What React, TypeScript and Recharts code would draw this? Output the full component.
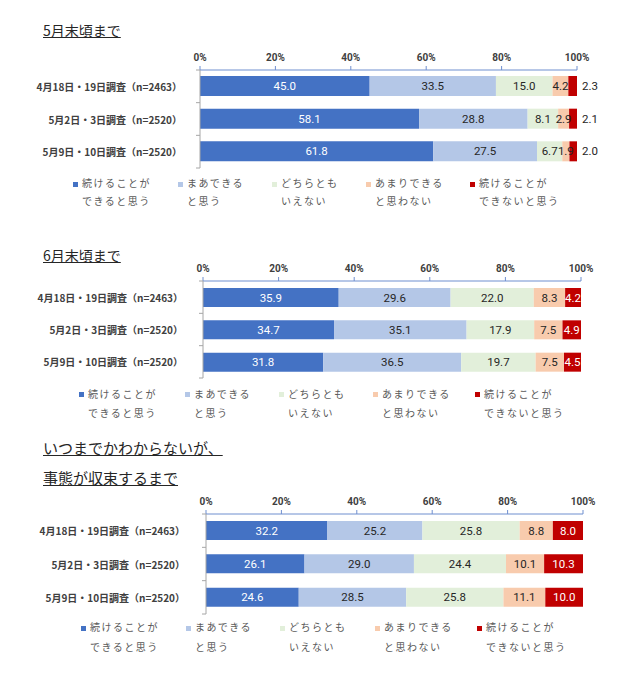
import React from 'react';
import { BarChart, Bar, XAxis, YAxis, LabelList } from 'recharts';

// survey rounds (y categories)
const categories = [
  '4月18日・19日調査（n=2463）',
  '5月2日・3日調査（n=2520）',
  '5月9日・10日調査（n=2520）',
];

// legend text, two lines each
const seriesLabels = [
  ['続けることが', 'できると思う'],
  ['まあできる', 'と思う'],
  ['どちらとも', 'いえない'],
  ['あまりできる', 'と思わない'],
  ['続けることが', 'できないと思う'],
];

const seriesColors = ['#4472C4', '#B4C7E7', '#E2EFDA', '#F8CBAD', '#C00000'];
const labelColors = ['#FFFFFF', '#262626', '#262626', '#262626', '#FFFFFF'];

const xTicks = [0, 0.2, 0.4, 0.6, 0.8, 1];

// values per survey round, in series order
const untilEndOfMay = [
  [45.0, 33.5, 15.0, 4.2, 2.3],
  [58.1, 28.8, 8.1, 2.9, 2.1],
  [61.8, 27.5, 6.7, 1.9, 2.0],
];
const untilEndOfJune = [
  [35.9, 29.6, 22.0, 8.3, 4.2],
  [34.7, 35.1, 17.9, 7.5, 4.9],
  [31.8, 36.5, 19.7, 7.5, 4.5],
];
const untilSettled = [
  [32.2, 25.2, 25.8, 8.8, 8.0],
  [26.1, 29.0, 24.4, 10.1, 10.3],
  [24.6, 28.5, 25.8, 11.1, 10.0],
];

const JP = "'Noto Sans CJK JP', 'Noto Sans', sans-serif";
const NUM = "Roboto, 'Noto Sans', sans-serif";

const toRows = (values: number[][]) =>
  categories.map((label, i) => {
    const row: Record<string, string | number> = { label };
    values[i].forEach((v, j) => (row['s' + j] = v));
    return row;
  });

interface SectionProps {
  values: number[][];
  titles: string[];
  titleY: number; // centre of first title line
  titleSize: number;
  axisY: number;
  plotLeft: number;
  plotRight: number;
  plotHeight: number;
  barSize: number;
  labelGap: number;
  legendY: number; // centre of first legend line
  legendLine: number;
  legendX: number[];
  outsideLast?: boolean;
}

function Section(p: SectionProps) {
  const data = toRows(p.values);
  const band = p.plotHeight / categories.length;
  const axisH = 30;

  const CategoryTick = (t: any) => {
    const { y, payload, index } = t;
    return (
      <g>
        <text
          x={p.plotLeft - p.labelGap}
          y={y}
          textAnchor="end"
          dominantBaseline="central"
          fontSize={10}
          fontWeight="bold"
          fontFamily={JP}
          fill="#404040"
        >
          {payload.value}
        </text>
        <line x1={p.plotLeft - 4} x2={p.plotLeft} y1={y - band / 2} y2={y - band / 2} stroke="#A6A6A6" />
        {index === categories.length - 1 && (
          <line x1={p.plotLeft - 4} x2={p.plotLeft} y1={y + band / 2} y2={y + band / 2} stroke="#A6A6A6" />
        )}
      </g>
    );
  };

  return (
    <>
      {p.titles.map((t, i) => (
        <div
          key={t}
          style={{
            position: 'absolute',
            left: 43,
            top: p.titleY - 10 + i * 30,
            fontSize: p.titleSize,
            lineHeight: '20px',
            fontFamily: JP,
            color: '#262626',
            textDecoration: 'underline',
            whiteSpace: 'nowrap',
          }}
        >
          {t}
        </div>
      ))}
      <div style={{ position: 'absolute', left: 0, top: p.axisY - axisH }}>
        <BarChart
          width={624}
          height={axisH + p.plotHeight + 2}
          data={data}
          layout="vertical"
          stackOffset="expand"
          margin={{ top: 0, right: 624 - p.plotRight, bottom: 2, left: 0 }}
          barSize={p.barSize}
        >
          <XAxis
            type="number"
            orientation="top"
            domain={[0, 1]}
            ticks={xTicks}
            height={axisH}
            tickFormatter={(v: number) => `${Math.round(v * 100)}%`}
            axisLine={{ stroke: '#6F8FCF' }}
            tickLine={{ stroke: '#6F8FCF' }}
            tickSize={4}
            tickMargin={5}
            tick={{ fontSize: 10, fontWeight: 'bold', fill: '#404040', fontFamily: NUM }}
          />
          <YAxis
            type="category"
            dataKey="label"
            width={p.plotLeft}
            axisLine={{ stroke: '#A6A6A6' }}
            tickLine={false}
            tick={CategoryTick}
            interval={0}
          />
          {seriesColors.map((c, j) => {
            const outside = p.outsideLast && j === seriesColors.length - 1;
            return (
              <Bar key={j} dataKey={'s' + j} stackId="a" fill={c} isAnimationActive={false}>
                <LabelList
                  dataKey={'s' + j}
                  position={outside ? 'right' : 'center'}
                  offset={5}
                  formatter={(v: any) => Number(v).toFixed(1)}
                  fill={outside ? '#262626' : labelColors[j]}
                  fontSize={11.5}
                  fontFamily={NUM}
                />
              </Bar>
            );
          })}
        </BarChart>
      </div>
      {seriesLabels.map((lines, j) => (
        <div
          key={j}
          style={{
            position: 'absolute',
            left: p.legendX[j],
            top: p.legendY - p.legendLine / 2,
            fontFamily: JP,
            fontSize: 10,
            letterSpacing: 1.5,
            lineHeight: p.legendLine + 'px',
            color: '#595959',
            whiteSpace: 'nowrap',
          }}
        >
          <span
            style={{
              display: 'inline-block',
              width: 5,
              height: 5,
              background: seriesColors[j],
              marginRight: 4,
              verticalAlign: 'middle',
            }}
          />
          {lines[0]}
          <div style={{ paddingLeft: 9 }}>{lines[1]}</div>
        </div>
      ))}
    </>
  );
}

export default function App() {
  return (
    <div style={{ position: 'absolute', left: 0, top: 0, width: 624, height: 700, background: '#fff' }}>
      <Section
        values={untilEndOfMay}
        titles={['5月末頃まで']}
        titleY={30}
        titleSize={14}
        axisY={70}
        plotLeft={200}
        plotRight={577}
        plotHeight={98}
        barSize={20}
        labelGap={18}
        legendY={183}
        legendLine={18}
        legendX={[73, 178, 272, 366, 470]}
        outsideLast
      />
      <Section
        values={untilEndOfJune}
        titles={['6月末頃まで']}
        titleY={255}
        titleSize={14}
        axisY={281}
        plotLeft={203}
        plotRight={581}
        plotHeight={97}
        barSize={19}
        labelGap={20}
        legendY={393}
        legendLine={19}
        legendX={[79, 185, 279, 373, 475]}
      />
      <Section
        values={untilSettled}
        titles={['いつまでかわからないが、', '事態が収束するまで']}
        titleY={448}
        titleSize={15}
        axisY={514}
        plotLeft={206}
        plotRight={583}
        plotHeight={100}
        barSize={19}
        labelGap={21}
        legendY={627}
        legendLine={20}
        legendX={[81, 186, 280, 375, 477]}
      />
    </div>
  );
}
